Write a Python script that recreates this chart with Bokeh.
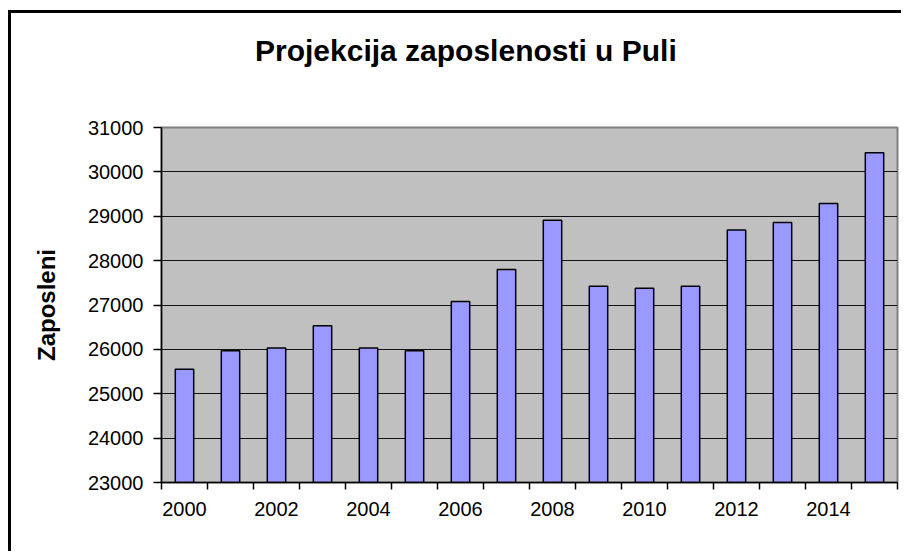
from bokeh.plotting import figure
from bokeh.models import FixedTicker, Range1d, ColumnDataSource, Div
from bokeh.layouts import column
from bokeh.embed import file_html
from bokeh.resources import INLINE

years = [2000, 2001, 2002, 2003, 2004, 2005, 2006, 2007,
         2008, 2009, 2010, 2011, 2012, 2013, 2014, 2015]
employed = [25550, 25970, 26030, 26530, 26030, 25970, 27080, 27800,
            28910, 27420, 27380, 27420, 28690, 28860, 29290, 30430]
y_ticks = [23000, 24000, 25000, 26000, 27000, 28000, 29000, 30000, 31000]
title_text = "Projekcija zaposlenosti u Puli"
y_label = "Zaposleni"

FONT = "Liberation Sans"

pos = [i + 0.5 for i in range(len(years))]
src = ColumnDataSource(dict(x=pos, top=employed, year=years))

p = figure(frame_width=736, frame_height=355,
           min_border_left=150, min_border_right=4,
           min_border_top=14, min_border_bottom=69,
           x_range=Range1d(0, len(years)), y_range=Range1d(y_ticks[0], y_ticks[-1]),
           output_backend="svg", toolbar_location=None, margin=0)

p.vbar(x="x", top="top", bottom=y_ticks[0], width=0.4, source=src,
       fill_color="#9999FF", line_color="black", line_width=1.5)

p.background_fill_color = "#C0C0C0"
p.border_fill_color = "white"
p.outline_line_color = "#808080"
p.outline_line_width = 2

p.xgrid.visible = False
p.ygrid.ticker = FixedTicker(ticks=y_ticks)
p.ygrid.grid_line_color = "black"
p.ygrid.grid_line_width = 1
p.ygrid.grid_line_alpha = 0.9

# x axis: ticks at category boundaries, labels every other year at centers
xa = p.xaxis[0]
xa.ticker = FixedTicker(ticks=[pos[i] for i in range(0, len(years), 2)],
                        minor_ticks=list(range(len(years) + 1)))
xa.major_label_overrides = {pos[i]: str(years[i]) for i in range(0, len(years), 2)}
xa.major_tick_out = 0
xa.major_tick_in = 0
xa.minor_tick_out = 7
xa.minor_tick_in = 0
xa.minor_tick_line_color = "black"
xa.minor_tick_line_width = 1.5
xa.axis_line_color = "black"
xa.axis_line_width = 1.5
xa.major_label_standoff = 12
xa.major_label_text_font = FONT
xa.major_label_text_font_size = "20px"
xa.major_label_text_color = "black"

ya = p.yaxis[0]
ya.ticker = FixedTicker(ticks=y_ticks)
ya.major_tick_out = 8
ya.major_tick_in = 0
ya.major_tick_line_color = "black"
ya.major_tick_line_width = 1.5
ya.minor_tick_out = 0
ya.minor_tick_in = 0
ya.axis_line_color = "black"
ya.axis_line_width = 1.5
ya.major_label_standoff = 10
ya.major_label_text_font = FONT
ya.major_label_text_font_size = "20px"
ya.major_label_text_color = "black"
ya.axis_label = y_label
ya.axis_label_text_font = FONT
ya.axis_label_text_font_size = "24px"
ya.axis_label_text_font_style = "bold"
ya.axis_label_text_color = "black"
ya.axis_label_standoff = 25

title_div = Div(
    text=f'<div style="width:890px;padding-left:244px;padding-top:23px;'
         f'font-family:\'{FONT}\';font-size:30px;font-weight:bold;'
         f'line-height:30px;color:black;white-space:nowrap;">{title_text}</div>',
    width=890, height=100, margin=0,
    styles={"background-color": "white"})

layout = column(title_div, p, spacing=0, margin=0,
                styles={"border-left": "3px solid black",
                        "border-top": "3px solid black",
                        "margin-top": "10px", "margin-left": "8px",
                        "background-color": "white"})

open("out.html", "w").write(file_html(layout, INLINE))
